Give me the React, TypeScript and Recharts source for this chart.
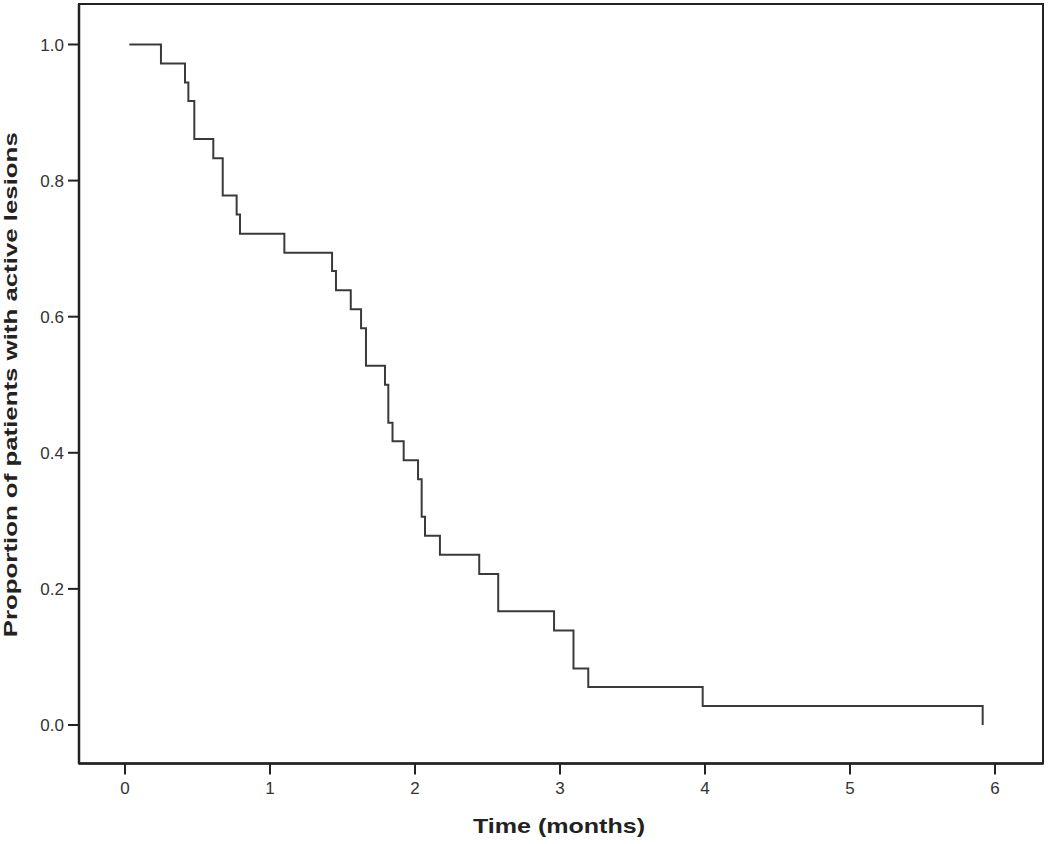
import React from "react";
import { LineChart, Line, XAxis, YAxis, ReferenceArea } from "recharts";

const times = [0.03, 0.248, 0.414, 0.437, 0.478, 0.609, 0.674, 0.77, 0.793, 1.099, 1.428, 1.455, 1.557, 1.628, 1.662, 1.793, 1.816, 1.845, 1.922, 2.021, 2.046, 2.069, 2.172, 2.443, 2.574, 2.959, 3.093, 3.195, 3.984, 5.915];
const survival = [1.0, 0.972, 0.944, 0.917, 0.861, 0.833, 0.778, 0.75, 0.722, 0.694, 0.667, 0.639, 0.611, 0.583, 0.528, 0.5, 0.444, 0.417, 0.389, 0.361, 0.306, 0.278, 0.25, 0.222, 0.167, 0.139, 0.083, 0.056, 0.028, 0.0];
const xTicks = [0, 1, 2, 3, 4, 5, 6];
const yTicks = [0, 0.2, 0.4, 0.6, 0.8, 1.0];
const xDomain: [number, number] = [-0.3172, 6.331];
const yDomain: [number, number] = [-0.0566, 1.0595];
const xTitle = "Time (months)";
const yTitle = "Proportion of patients with active lesions";

const data = times.map((t, i) => ({ t, s: survival[i] }));

const tickStyle = { fontFamily: "'Liberation Sans', Arial, sans-serif", fontSize: 17, fill: "#333" };

const YTitle = (props: any) => {
  const vb = props.viewBox || { x: 0, y: 0, width: 0, height: 0 };
  const cy = vb.y + vb.height / 2 + 1;
  const bx = 17;
  return (
    <text
      transform={`translate(${bx},${cy}) rotate(-90)`}
      textAnchor="middle"
      textLength={505}
      lengthAdjust="spacingAndGlyphs"
      style={{ fontFamily: "'Liberation Sans', Arial, sans-serif", fontSize: 19, fontWeight: "bold", fill: "#222" }}
    >
      {yTitle}
    </text>
  );
};

const XTitle = (props: any) => {
  const vb = props.viewBox || { x: 0, y: 0, width: 0, height: 0 };
  const cx = vb.x + vb.width / 2 - 2;
  return (
    <text
      x={cx}
      y={833}
      textAnchor="middle"
      textLength={172}
      lengthAdjust="spacingAndGlyphs"
      style={{ fontFamily: "'Liberation Sans', Arial, sans-serif", fontSize: 21, fontWeight: "bold", fill: "#222" }}
    >
      {xTitle}
    </text>
  );
};

export default function App() {
  return (
    <div style={{ position: "absolute", left: 0, top: 0, width: 1050, height: 844, background: "#fff" }}>
      <LineChart width={1050} height={844} data={data} margin={{ top: 4, right: 7, bottom: 0, left: 0 }}>
        <XAxis
          dataKey="t"
          type="number"
          domain={xDomain}
          allowDataOverflow
          ticks={xTicks}
          height={80.5}
          tickSize={11}
          tickMargin={7}
          tick={tickStyle}
          axisLine={{ stroke: "#222", strokeWidth: 2.5 }}
          tickLine={{ stroke: "#222", strokeWidth: 2 }}
          label={<XTitle />}
        />
        <YAxis
          type="number"
          domain={yDomain}
          allowDataOverflow
          ticks={yTicks}
          width={79}
          tickSize={11}
          tickMargin={4}
          tick={tickStyle}
          tickFormatter={(v: number) => v.toFixed(1)}
          axisLine={{ stroke: "#222", strokeWidth: 2.5 }}
          tickLine={{ stroke: "#222", strokeWidth: 2 }}
          label={<YTitle />}
        />
        <ReferenceArea
          x1={xDomain[0]}
          x2={xDomain[1]}
          y1={yDomain[0]}
          y2={yDomain[1]}
          fill="none"
          fillOpacity={0}
          stroke="#222"
          strokeWidth={2}
          ifOverflow="visible"
        />
        <Line
          type="stepAfter"
          dataKey="s"
          stroke="#3a3a3a"
          strokeWidth={2}
          dot={false}
          isAnimationActive={false}
        />
      </LineChart>
    </div>
  );
}
